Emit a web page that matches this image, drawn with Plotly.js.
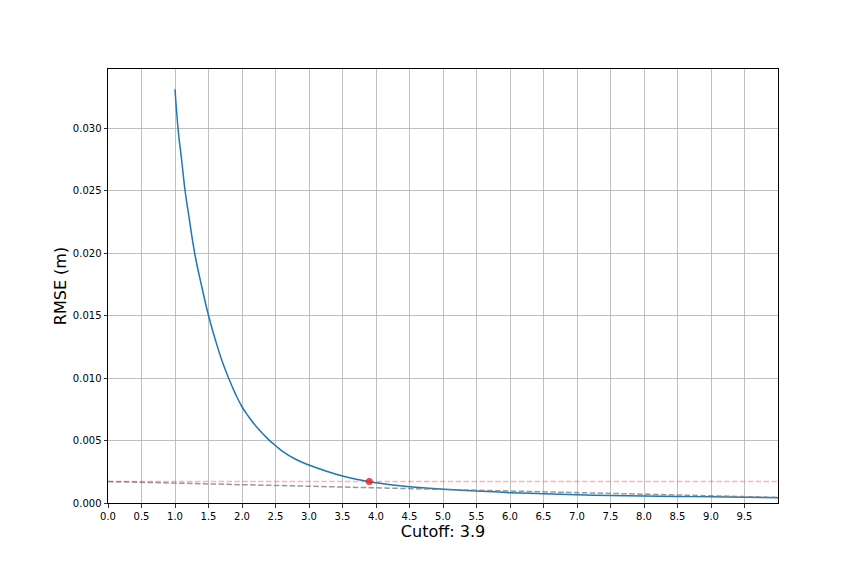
<!DOCTYPE html>
<html>
<head>
<meta charset="utf-8">
<script src="https://cdn.plot.ly/plotly-3.0.1.min.js"></script>
<style>html,body{margin:0;padding:0;background:#fff;}#chart{width:864px;height:576px;}</style>
</head>
<body>
<div id="chart"></div>
<script>
// RMSE curve
var cutoffX = [1.0, 1.05, 1.1, 1.15, 1.2, 1.3, 1.4, 1.5, 1.6, 1.7, 1.8, 1.9, 2.0, 2.1, 2.2, 2.3, 2.4, 2.5, 2.6, 2.8, 3.0, 3.25, 3.5, 3.75, 3.9, 4.0, 4.5, 5.0, 5.5, 6.0, 6.5, 7.0, 7.5, 8.0, 8.5, 9.0, 9.5, 10.0];
var rmseY = [0.0331, 0.0297, 0.0274, 0.0250, 0.0232, 0.0198, 0.0173, 0.0150, 0.0131, 0.0114, 0.0100, 0.00875, 0.0077, 0.0069, 0.0062, 0.0056, 0.00505, 0.0046, 0.00415, 0.0035, 0.00304, 0.00256, 0.00216, 0.00186, 0.0017, 0.00162, 0.0013, 0.0011, 0.00096, 0.00083, 0.00075, 0.00066, 0.0006, 0.00056, 0.00052, 0.0005, 0.00046, 0.00043];

// gray dashed reference line (endpoints)
var grayX = [0, 10];
var grayY = [0.00172, 0.00045];

// red dashed horizontal threshold line
var threshX = [0, 10];
var threshY = [0.00172, 0.00172];

// chosen cutoff point
var cutoffPointX = [3.9];
var cutoffPointY = [0.00172];

var xTicks = [0.0,0.5,1.0,1.5,2.0,2.5,3.0,3.5,4.0,4.5,5.0,5.5,6.0,6.5,7.0,7.5,8.0,8.5,9.0,9.5];
var yTicks = [0.000,0.005,0.010,0.015,0.020,0.025,0.030];
var xTitle = 'Cutoff: 3.9';
var yTitle = 'RMSE (m)';

var traces = [
  {x: cutoffX, y: rmseY, mode: 'lines', line: {color: '#1f77b4', width: 1.5, shape: 'spline', smoothing: 1.3}, hoverinfo: 'skip'},
  {x: grayX, y: grayY, mode: 'lines', line: {color: 'rgba(128,128,128,0.8)', width: 1.5, dash: '5.5px,2.4px'}, hoverinfo: 'skip'},
  {x: threshX, y: threshY, mode: 'lines', line: {color: 'rgba(255,0,0,0.3)', width: 1.5, dash: '5.5px,2.4px'}, hoverinfo: 'skip'},
  {x: cutoffPointX, y: cutoffPointY, mode: 'markers', marker: {color: 'rgba(228,40,40,0.85)', size: 7, line: {width: 0}}, hoverinfo: 'skip'}
];

var axisCommon = {
  showline: true, mirror: true, linecolor: '#000', linewidth: 1,
  ticks: 'outside', ticklen: 3.5, tickwidth: 0.8, tickcolor: '#000',
  showgrid: true, gridcolor: '#b0b0b0', gridwidth: 0.8,
  zeroline: false,
  tickfont: {family: 'DejaVu Sans', size: 10, color: '#000'}
};

var layout = {
  width: 864, height: 576,
  margin: {l: 108, r: 86, t: 69, b: 73},
  paper_bgcolor: '#fff', plot_bgcolor: '#fff',
  showlegend: false,
  font: {family: 'DejaVu Sans', color: '#000'},
  xaxis: Object.assign({}, axisCommon, {
    range: [0, 10], tickmode: 'array', tickvals: xTicks,
    ticktext: xTicks.map(function(v){return v.toFixed(1);}),
    title: {text: xTitle, font: {family: 'DejaVu Sans', size: 16, color: '#000'}, standoff: 5}
  }),
  yaxis: Object.assign({}, axisCommon, {
    range: [0, 0.03472], tickmode: 'array', tickvals: yTicks,
    ticktext: yTicks.map(function(v){return v.toFixed(3);}),
    title: {text: yTitle, font: {family: 'DejaVu Sans', size: 16, color: '#000'}, standoff: 2}
  })
};

Plotly.newPlot('chart', traces, layout, {displayModeBar: false, staticPlot: true});
</script>
</body>
</html>
